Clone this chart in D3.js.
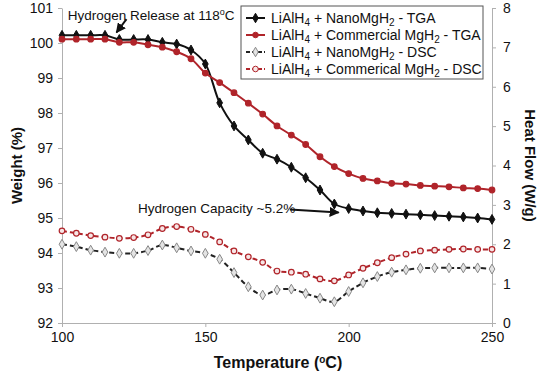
<!DOCTYPE html>
<html lang="en">
<head>
   <meta charset="UTF-8">
   <title>TGA / DSC</title>
   <style>
      body { margin: 0; background: #fff; }
      text { font-family: "Liberation Sans", Arial, sans-serif; fill: #111; }
      .axis path, .axis line { stroke: #b0b0b0; }
      .axis text { font-size: 14px; fill: #111; }
   </style>
   <script src="https://cdn.jsdelivr.net/npm/d3@7"></script>
</head>
<body>
   <div class="d3"></div>
   <script>
      // data
      const temps = [100, 105, 110, 115, 120, 125, 130, 135, 140, 145, 150, 155, 160, 165, 170, 175,
                     180, 185, 190, 195, 200, 205, 210, 215, 220, 225, 230, 235, 240, 245, 250]
      const nanoTGA = [100.22, 100.22, 100.22, 100.22, 100.1, 100.1, 100.1, 100.02, 99.97, 99.8, 99.4,
                       98.29, 97.63, 97.23, 96.85, 96.68, 96.45, 96.15, 95.8, 95.4, 95.27, 95.2, 95.15,
                       95.13, 95.11, 95.09, 95.07, 95.05, 95.03, 95.0, 94.96]
      const commTGA = [100.11, 100.11, 100.11, 100.11, 100.02, 100.02, 99.95, 99.88, 99.75, 99.55, 99.14,
                       98.87, 98.58, 98.28, 97.97, 97.63, 97.37, 97.1, 96.75, 96.47, 96.27, 96.13, 96.06,
                       95.99, 95.97, 95.93, 95.91, 95.89, 95.86, 95.84, 95.8]
      const nanoDSC = [2.0, 1.94, 1.85, 1.8, 1.77, 1.77, 1.84, 1.98, 1.91, 1.83, 1.77, 1.62, 1.28, 0.92,
                       0.71, 0.84, 0.86, 0.75, 0.63, 0.54, 0.8, 1.02, 1.18, 1.29, 1.35, 1.39, 1.4, 1.4,
                       1.4, 1.4, 1.37]
      const commDSC = [2.34, 2.28, 2.22, 2.18, 2.15, 2.17, 2.24, 2.4, 2.45, 2.38, 2.25, 2.06, 1.83, 1.68,
                       1.54, 1.32, 1.29, 1.24, 1.12, 1.07, 1.22, 1.39, 1.53, 1.66, 1.75, 1.83, 1.85, 1.87,
                       1.88, 1.87, 1.87]
      const xTicks = [100, 150, 200, 250]
      const weightTicks = [92, 93, 94, 95, 96, 97, 98, 99, 100, 101]
      const heatTicks = [0, 1, 2, 3, 4, 5, 6, 7, 8]

      const RED = '#b0242a'
      const series = [
         { name: ['LiAlH', '4', ' + NanoMgH', '2', ' - TGA'], values: nanoTGA, axis: 'left',
           color: '#111', dash: null, marker: 'diamond', fill: '#111', stroke: '#111' },
         { name: ['LiAlH', '4', ' + Commercial MgH', '2', ' - TGA'], values: commTGA, axis: 'left',
           color: RED, dash: null, marker: 'circle', fill: RED, stroke: RED },
         { name: ['LiAlH', '4', ' + NanoMgH', '2', ' - DSC'], values: nanoDSC, axis: 'right',
           color: '#222', dash: '5,3', marker: 'diamond', fill: '#e4e4e4', stroke: '#888' },
         { name: ['LiAlH', '4', ' + Commerical MgH', '2', ' - DSC'], values: commDSC, axis: 'right',
           color: RED, dash: '5,3', marker: 'circle', fill: '#f6e6e6', stroke: RED }
      ]

      const W = 540, H = 375
      const padding = { top: 8, right: 48, bottom: 52, left: 62 }

      const svg = d3.select('.d3').append('svg')
         .attr('width', W)
         .attr('height', H)

      const x = d3.scaleLinear().domain([100, 250]).range([padding.left, W - padding.right])
      const yL = d3.scaleLinear().domain([92, 101]).range([H - padding.bottom, padding.top])
      const yR = d3.scaleLinear().domain([0, 8]).range([H - padding.bottom, padding.top])

      // axes
      svg.append('g').attr('class', 'axis')
         .attr('transform', `translate(0, ${H - padding.bottom})`)
         .call(d3.axisBottom(x).tickValues(xTicks).tickSize(4).tickSizeOuter(0).tickPadding(5))
      svg.append('g').attr('class', 'axis')
         .attr('transform', `translate(${padding.left}, 0)`)
         .call(d3.axisLeft(yL).tickValues(weightTicks).tickSize(4).tickSizeOuter(0).tickPadding(5))
      svg.append('g').attr('class', 'axis')
         .attr('transform', `translate(${W - padding.right}, 0)`)
         .call(d3.axisRight(yR).tickValues(heatTicks).tickSize(4).tickSizeOuter(0).tickPadding(7))

      // axis titles
      svg.append('text')
         .attr('transform', `translate(22, ${(padding.top + H - padding.bottom) / 2}) rotate(-90)`)
         .attr('text-anchor', 'middle')
         .style('font-size', '15px').style('font-weight', 'bold')
         .text('Weight (%)')
      svg.append('text')
         .attr('transform', `translate(525, ${(padding.top + H - padding.bottom) / 2}) rotate(90)`)
         .attr('text-anchor', 'middle')
         .style('font-size', '15px').style('font-weight', 'bold')
         .text('Heat Flow (W/g)')
      const xt = svg.append('text')
         .attr('x', 278).attr('y', 368)
         .attr('text-anchor', 'middle')
         .style('font-size', '16px').style('font-weight', 'bold')
      xt.append('tspan').text('Temperature (')
      xt.append('tspan').attr('dy', -5).style('font-size', '10px').text('o')
      xt.append('tspan').attr('dy', 5).text('C)')

      // lines + markers
      const diamond = d3.symbol().type(d3.symbolDiamond)
      series.forEach(s => {
         const y = s.axis === 'left' ? yL : yR
         const line = d3.line()
            .x((d, i) => x(temps[i]))
            .y(d => y(d))
            .curve(d3.curveCatmullRom.alpha(0.5))
         svg.append('path')
            .datum(s.values)
            .attr('fill', 'none')
            .attr('stroke', s.color)
            .attr('stroke-width', 2)
            .attr('stroke-dasharray', s.dash)
            .attr('d', line)
         const g = svg.append('g')
         if (s.marker === 'diamond') {
            g.selectAll('path').data(s.values).enter().append('path')
               .attr('transform', (d, i) => `translate(${x(temps[i])}, ${y(d)})`)
               .attr('d', diamond.size(28))
               .attr('fill', s.fill).attr('stroke', s.stroke).attr('stroke-width', 1)
         } else {
            g.selectAll('circle').data(s.values).enter().append('circle')
               .attr('cx', (d, i) => x(temps[i]))
               .attr('cy', d => y(d))
               .attr('r', 2.8)
               .attr('fill', s.fill).attr('stroke', s.stroke).attr('stroke-width', 1.2)
         }
      })

      // legend
      const legend = svg.append('g').attr('transform', 'translate(241, 6)')
      legend.append('rect')
         .attr('width', 242).attr('height', 73)
         .attr('fill', '#fff').attr('stroke', '#555').attr('stroke-width', 1)
      series.forEach((s, i) => {
         const ly = 12 + i * 17
         legend.append('line')
            .attr('x1', 5).attr('x2', 24).attr('y1', ly).attr('y2', ly)
            .attr('stroke', s.color).attr('stroke-width', 2).attr('stroke-dasharray', s.dash ? '4,2' : null)
         if (s.marker === 'diamond') {
            legend.append('path')
               .attr('transform', `translate(14.5, ${ly})`)
               .attr('d', diamond.size(26))
               .attr('fill', s.fill).attr('stroke', s.stroke)
         } else {
            legend.append('circle')
               .attr('cx', 14.5).attr('cy', ly).attr('r', 2.8)
               .attr('fill', s.fill).attr('stroke', s.stroke)
         }
         const t = legend.append('text')
            .attr('x', 30).attr('y', ly + 5)
            .style('font-size', '14px')
         s.name.forEach((part, j) => {
            const sub = j % 2 === 1
            t.append('tspan')
               .attr('dy', sub ? 3 : (j === 0 ? 0 : -3))
               .style('font-size', sub ? '10px' : null)
               .text(part)
         })
      })

      // annotations
      const a1 = svg.append('text')
         .attr('x', x(102)).attr('y', 20)
         .style('font-size', '13.5px')
      a1.append('tspan').text('Hydrogen Release at 118')
      a1.append('tspan').attr('dy', -5).style('font-size', '9px').text('o')
      a1.append('tspan').attr('dy', 5).text('C')

      svg.append('text')
         .attr('x', x(126.5)).attr('y', 213)
         .style('font-size', '13.5px')
         .text('Hydrogen Capacity ~5.2%')

      svg.append('defs').append('marker')
         .attr('id', 'arrow')
         .attr('viewBox', '0 0 10 10').attr('refX', 9).attr('refY', 5)
         .attr('markerWidth', 5).attr('markerHeight', 5)
         .attr('orient', 'auto')
         .append('path').attr('d', 'M0,0 L10,5 L0,10 z').attr('fill', '#111')

      svg.append('line')
         .attr('x1', x(122.5)).attr('y1', yL(100.68))
         .attr('x2', x(119)).attr('y2', yL(100.3))
         .attr('stroke', '#111').attr('stroke-width', 2)
         .attr('marker-end', 'url(#arrow)')
      svg.append('line')
         .attr('x1', x(179.5)).attr('y1', yL(95.24))
         .attr('x2', x(196.5)).attr('y2', yL(95.16))
         .attr('stroke', '#111').attr('stroke-width', 2)
         .attr('marker-end', 'url(#arrow)')
   </script>
</body>
</html>
